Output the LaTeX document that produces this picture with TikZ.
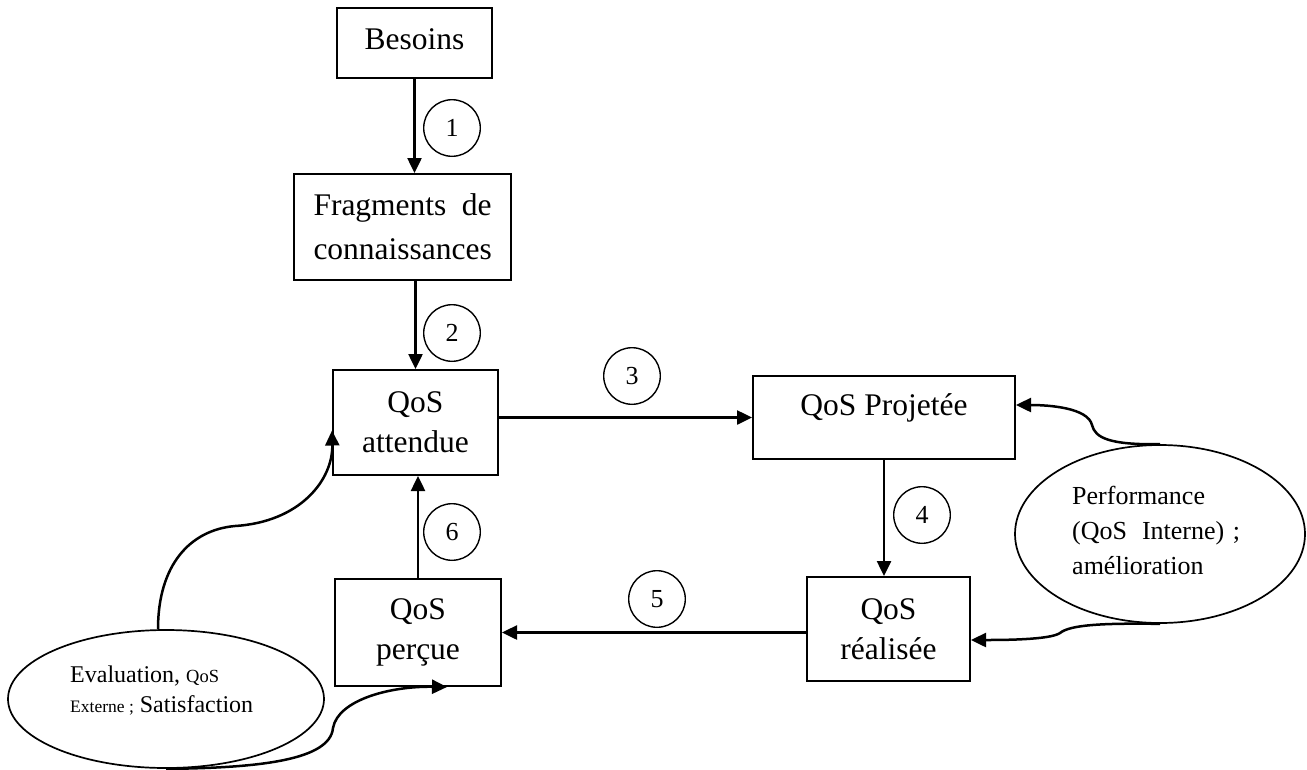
\documentclass[tikz,border=0pt]{standalone}
\usepackage{fontspec}
\setmainfont{Liberation Serif}
\usetikzlibrary{arrows.meta,shapes.geometric}

\begin{document}
\begin{tikzpicture}[x=1pt,y=-1pt,
  box/.style={draw,line width=2pt,inner sep=0pt,align=center,
    font=\fontsize{31.5}{40}\selectfont},
  num/.style={draw,circle,line width=1.4pt,minimum size=56.6pt,inner sep=0pt,
    font=\fontsize{26}{26}\selectfont},
  bubble/.style={draw,ellipse,line width=1.7pt,inner sep=0pt},
  flow/.style={line width=2.5pt,-{Triangle[length=15pt,width=14pt]}},
]
\useasboundingbox (0,0) rectangle (1307,769);

% main chain of boxes
\node[box,minimum width=155pt,minimum height=70pt,text height=22pt,text depth=10pt]
  (besoins) at (414.5,43) {Besoins};
\node[box,minimum width=217pt,minimum height=106pt,text width=178pt,align=left,
  font=\fontsize{31.5}{44}\selectfont]
  (frag) at (402.5,227) {Fragments\hfill de\\connaissances};
\node[box,minimum width=165pt,minimum height=105pt] (attendue) at (415.5,422.5) {QoS\\attendue};
\node[box,minimum width=262pt,minimum height=83pt,text height=23pt,text depth=28pt]
  (projetee) at (884,417.5) {QoS Projetée};
\node[box,minimum width=163pt,minimum height=104pt] (realisee) at (888.5,629) {QoS\\réalisée};
\node[box,minimum width=166pt,minimum height=107pt] (percue) at (418,632.5) {QoS\\perçue};

% step numbers
\node[num] (n1) at (452,128) {1};
\node[num] (n2) at (452,333) {2};
\node[num] (n3) at (632,376) {3};
\node[num] (n4) at (922,515) {4};
\node[num] (n5) at (657,599) {5};
\node[num] (n6) at (452,532) {6};

% side bubbles
\node[bubble,minimum width=316pt,minimum height=138pt] (evalell) at (166,699) {};
\node[anchor=west,inner sep=0pt,align=left,font=\fontsize{24}{30}\selectfont]
  (evaltxt) at (70,690.5)
  {Evaluation, {\fontsize{18.5}{30}\selectfont QoS}\\{\fontsize{17.5}{30}\selectfont Externe ;} Satisfaction};
\node[bubble,minimum width=290pt,minimum height=178pt] (perfell) at (1160,534) {};
\node[anchor=west,inner sep=0pt,text width=168pt,align=left,font=\fontsize{26}{35}\selectfont]
  (perftxt) at (1072,530)
  {Performance\\(QoS\hfill Interne)~;\\amélioration};

% straight flow
\draw[flow] (besoins.south) -- (besoins.south |- frag.north);
\draw[flow] (frag.south -| attendue.north) -- (attendue.north);
\draw[flow] (attendue.east |- projetee.west) -- (projetee.west);
\draw[flow] (projetee.south) -- (projetee.south |- realisee.north);
\draw[flow] (realisee.west |- percue.east) -- (percue.east);
\draw[flow] (percue.north) -- (percue.north |- attendue.south);

% curved feedback connectors
\draw[flow] ([xshift=-8pt]evalell.north) .. controls (158,565) and (190,530) .. (235,526)
  .. controls (300,522) and (333,480) .. ([yshift=-8pt]attendue.west);
\draw[flow] (evalell.south) .. controls (260,768) and (330,760) .. (333,728)
  .. controls (338,700) and (390,686) .. ([xshift=29pt]percue.south);
\draw[flow] (perfell.north) .. controls (1110,445) and (1095,438) .. (1092,425)
  .. controls (1088,408) and (1050,405) .. ([yshift=12.5pt]projetee.east);
\draw[flow] (perfell.south) .. controls (1100,623) and (1070,625) .. (1060,633)
  .. controls (1050,640) and (1000,640) .. ([yshift=-11pt]realisee.east);
\end{tikzpicture}
\end{document}
